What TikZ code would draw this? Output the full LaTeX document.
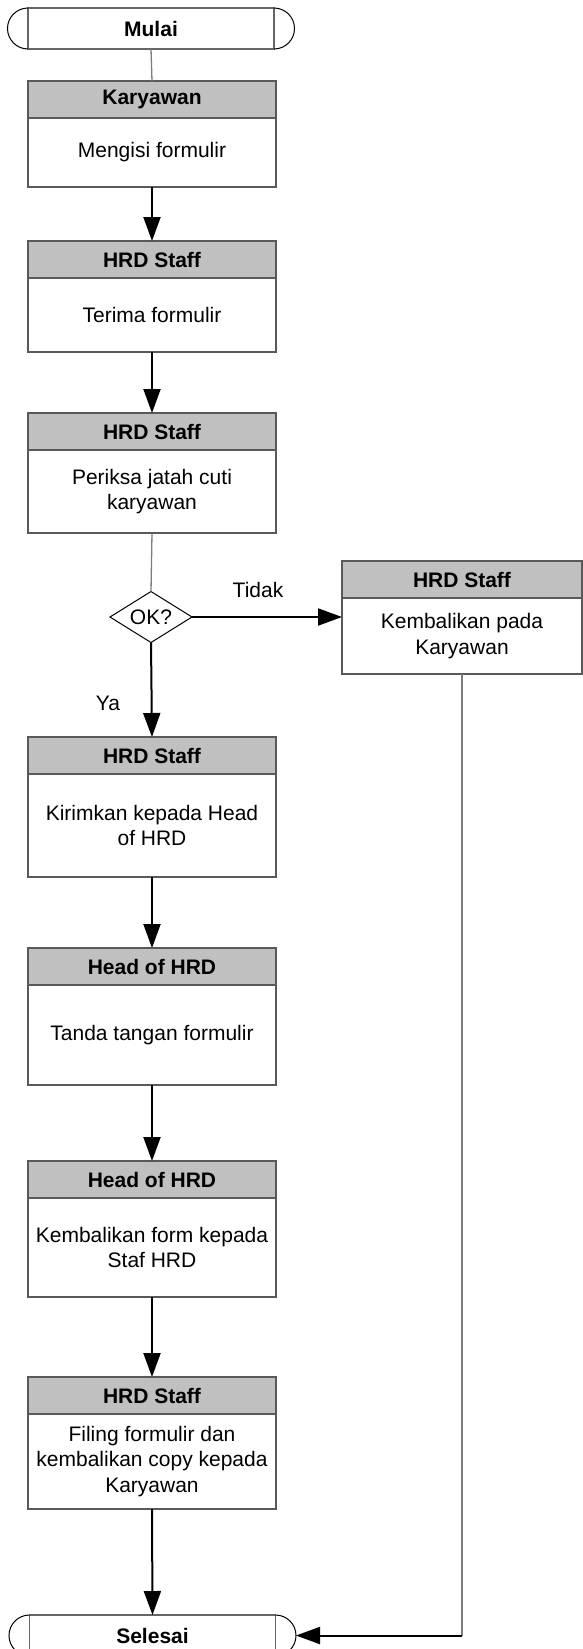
\documentclass[tikz,border=0pt]{standalone}
\usepackage{fontspec}
\setmainfont{Liberation Sans}
\usetikzlibrary{positioning,shapes.geometric,arrows.meta}
\definecolor{headGray}{RGB}{192,192,192}
\definecolor{lineGray}{RGB}{125,125,125}

\begin{document}
\begin{tikzpicture}
[x=1pt,y=-1pt,
  headDecorate/.style={shape=rectangle,draw=black!65,line width=1.3pt,fill=headGray,
    minimum height=37pt,inner sep=0pt,outer sep=0pt,font=\bfseries},
  bodyDecorate/.style={shape=rectangle,draw=black!65,line width=1.3pt,fill=white,
    inner sep=0pt,outer sep=0pt,align=center},
  termDecorate/.style={shape=rectangle,draw=black!60,line width=1.3pt,minimum width=246pt,
    minimum height=41pt,inner sep=0pt,outer sep=0pt,font=\bfseries},
  arcDecorate/.style={draw=black,line width=1pt},
  decideDecorate/.style={shape=diamond,draw=black,line width=1pt,aspect=1.6,
    minimum width=82pt,minimum height=51pt,inner sep=0pt,outer sep=0pt},
  lineDecorate/.style={-,draw=lineGray,line width=1.3pt},
  arrowDecorate/.style={-{Triangle[length=24pt,width=17pt]},draw=black,line width=2pt}]
\fontsize{21}{25.5}\selectfont
\useasboundingbox (0,0) rectangle (582,1649);
%% start and end
\node (mulai) at (151,28.5) [termDecorate] {Mulai};
\node (selesai) at (152.5,1635.5) [termDecorate] {Selesai};
\foreach \term in {mulai,selesai}
{
  \draw[arcDecorate] (\term.north west) arc (90:270:20.5pt);
  \draw[arcDecorate] (\term.north east) arc (90:-90:20.5pt);
}
\coordinate (selesaiTip) at ([xshift=20.5pt]selesai.east);
%% process boxes
\foreach \nodename/\x/\y/\w/\h/\who/\task in {
  karya/152/81/248/69/Karyawan/Mengisi formulir,
  terima/152/241/248/74/HRD Staff/Terima formulir,
  periksa/152/413/248/83/HRD Staff/Periksa jatah cuti\\karyawan,
  kirim/152/737/248/103/HRD Staff/Kirimkan kepada Head\\of HRD,
  ttd/152/948/248/100/Head of HRD/Tanda tangan formulir,
  kembali/152/1161/248/99/Head of HRD/Kembalikan form kepada\\Staf HRD,
  filing/152/1377/248/95/HRD Staff/Filing formulir dan\\kembalikan copy kepada\\Karyawan,
  tolak/462/561/240/76/HRD Staff/Kembalikan pada\\Karyawan}
{
  \node (\nodename-head) at (\x,\y+18.5) [headDecorate,minimum width=\w pt] {\who};
  \node (\nodename-body) [below=0pt of \nodename-head,bodyDecorate,
    minimum width=\w pt,minimum height=\h pt] {\task};
}
%% decision
\node (ok) at (151,617) [decideDecorate] {OK?};
\node (tidak) at (258,590) {Tidak};
\node (ya) at (108,703) {Ya};
\coordinate (corner) at (tolak-body.south |- selesai.east);
%% plain lines
\path
\foreach \startnode/\endnode in {
  mulai.south/karya-head.north, periksa-body.south/ok.north, tolak-body.south/corner}
{
  (\startnode) edge[lineDecorate] (\endnode)
};
%% arrows
\path
\foreach \startnode/\endnode in {
  karya-body.south/terima-head.north, terima-body.south/periksa-head.north,
  ok.south/kirim-head.north, kirim-body.south/ttd-head.north,
  ttd-body.south/kembali-head.north, kembali-body.south/filing-head.north,
  filing-body.south/selesai.north, corner/selesaiTip}
{
  (\startnode) edge[arrowDecorate] (\endnode)
};
\draw[arrowDecorate] (ok.east) -- (ok.east -| tolak-body.west);
\end{tikzpicture}
\end{document}
